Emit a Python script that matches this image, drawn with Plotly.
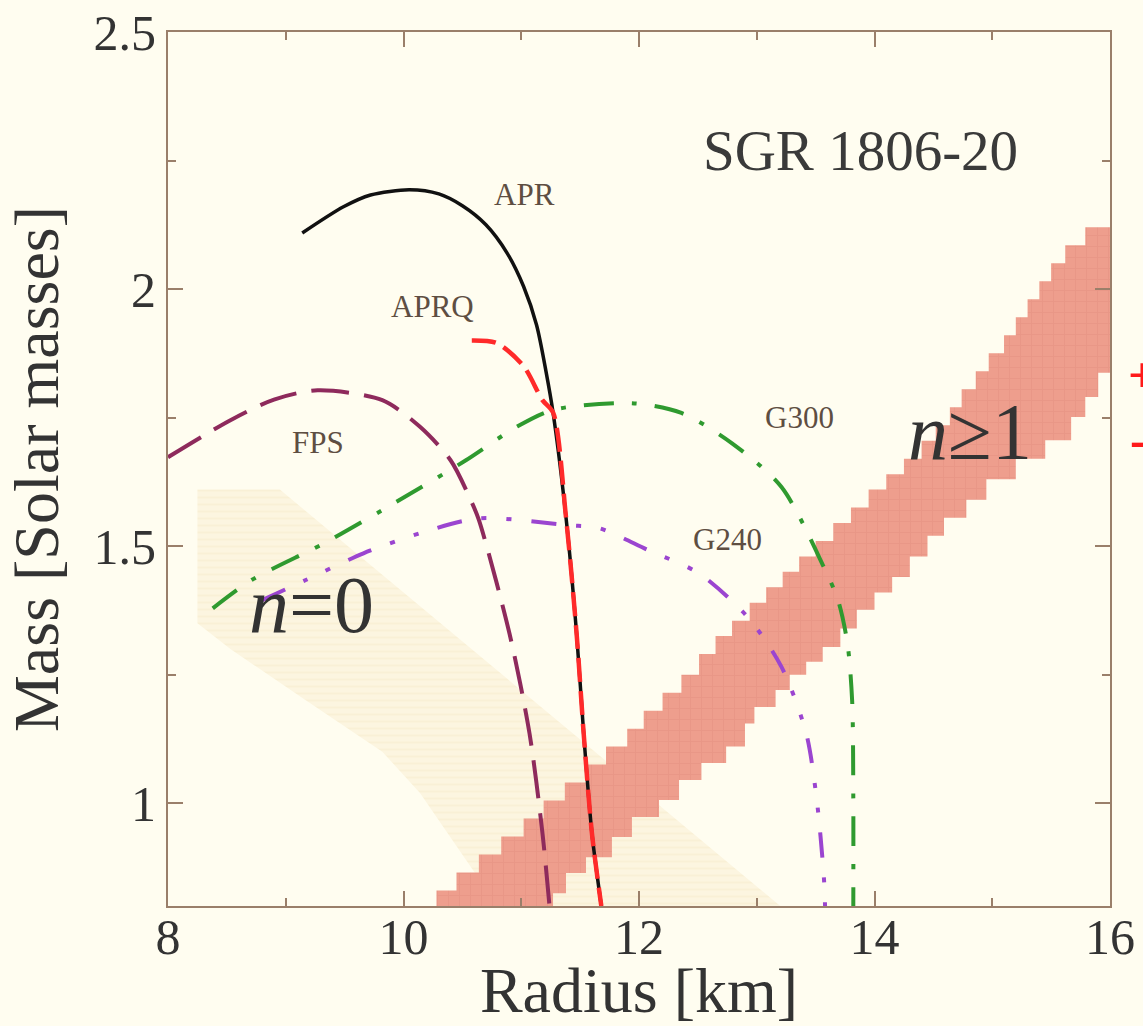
import plotly.graph_objects as go

# ---------------- data ----------------
apr_r = [9.14, 9.49, 9.72, 10.05, 10.30, 10.50, 10.70, 10.88, 11.02, 11.13, 11.21, 11.27, 11.38, 11.47, 11.53, 11.60, 11.68]
apr_m = [2.109, 2.160, 2.183, 2.193, 2.185, 2.162, 2.125, 2.070, 2.005, 1.930, 1.840, 1.760, 1.556, 1.330, 1.136, 0.942, 0.800]

aprq_r = [10.58, 10.79, 11.02, 11.18, 11.27, 11.38, 11.47, 11.53, 11.60, 11.68]
aprq_m = [1.900, 1.895, 1.850, 1.784, 1.760, 1.556, 1.330, 1.136, 0.942, 0.800]

fps_r = [8.00, 8.53, 8.90, 9.27, 9.82, 10.14, 10.40, 10.57, 10.64, 10.90, 11.07, 11.18, 11.24]
fps_m = [1.673, 1.745, 1.785, 1.803, 1.784, 1.732, 1.667, 1.590, 1.551, 1.330, 1.136, 0.942, 0.800]

g300_r = [8.38, 8.71, 9.33, 9.82, 10.53, 10.96, 11.27, 11.94, 12.36, 12.79, 13.21, 13.57, 13.69, 13.77, 13.81, 13.82, 13.82]
g300_m = [1.379, 1.434, 1.506, 1.570, 1.667, 1.732, 1.765, 1.778, 1.759, 1.700, 1.615, 1.459, 1.395, 1.311, 1.200, 1.006, 0.800]

g240_r = [8.80, 9.17, 9.66, 10.14, 10.64, 11.38, 11.66, 12.08, 12.51, 12.93, 13.21, 13.42, 13.51, 13.57, 13.58]
g240_m = [1.395, 1.434, 1.486, 1.525, 1.554, 1.541, 1.535, 1.492, 1.447, 1.360, 1.265, 1.136, 1.006, 0.856, 0.800]

# n >= 1 band: upper (left) staircase edge and lower (right) staircase edge
band_up_r = [10.28, 10.28, 10.45, 10.64, 10.83, 11.02, 11.19, 11.37, 11.55, 11.72, 11.90, 12.04, 12.20, 12.36,
             12.51, 12.65, 12.79, 12.94, 13.08, 13.22, 13.36, 13.50, 13.65, 13.80, 13.95, 14.10, 14.25, 14.40,
             14.52, 14.64, 14.74, 14.86, 14.97, 15.10, 15.20, 15.30, 15.40, 15.50, 15.62, 15.79, 16.00]
band_up_m = [0.800, 0.830, 0.865, 0.900, 0.935, 0.970, 1.005, 1.040, 1.075, 1.110, 1.145, 1.180, 1.215, 1.250,
             1.290, 1.325, 1.355, 1.390, 1.420, 1.450, 1.480, 1.510, 1.545, 1.575, 1.610, 1.640, 1.670, 1.705,
             1.735, 1.770, 1.805, 1.840, 1.875, 1.910, 1.945, 1.980, 2.015, 2.050, 2.085, 2.120, 2.120]
band_lo_r = [16.00, 15.90, 15.79, 15.67, 15.45, 15.20, 14.95, 14.78, 14.59, 14.45, 14.30, 14.15, 14.00, 13.85,
             13.71, 13.56, 13.42, 13.28, 13.16, 12.98, 12.90, 12.74, 12.53, 12.34, 12.17, 11.94, 11.77, 11.55,
             11.38, 11.27, 10.28]
band_lo_m = [1.837, 1.790, 1.751, 1.706, 1.670, 1.630, 1.590, 1.555, 1.520, 1.480, 1.440, 1.410, 1.376, 1.340,
             1.304, 1.275, 1.250, 1.220, 1.187, 1.155, 1.110, 1.078, 1.045, 1.006, 0.973, 0.934, 0.895, 0.864,
             0.825, 0.800, 0.800]

# n = 0 region (faint beige)
n0_r = [8.25, 8.95, 13.20, 10.80, 10.14, 9.82, 9.17, 8.53, 8.25]
n0_m = [1.610, 1.610, 0.800, 0.800, 1.020, 1.100, 1.200, 1.300, 1.350]

labels = ["APR", "APRQ", "FPS", "G300", "G240"]
label_r = [11.03, 10.25, 9.27, 13.36, 12.75]
label_m = [2.183, 1.967, 1.702, 1.751, 1.512]

# ---------------- styling ----------------
BG = "#FFFDF0"
AX = "#9A7F6A"
SERIF = "Liberation Serif, Times New Roman, serif"

fig = go.Figure()

fig.add_trace(go.Scatter(
    x=n0_r, y=n0_m, mode="lines", fill="toself",
    line=dict(color="rgba(0,0,0,0)", width=0),
    fillcolor="#FCF5E0",
    fillpattern=dict(shape="-", bgcolor="#FCF5E0", fgcolor="#F6EBCB", size=7, solidity=0.3),
    hoverinfo="skip", showlegend=False))

fig.add_trace(go.Scatter(
    x=band_up_r + band_lo_r, y=band_up_m + band_lo_m, mode="lines", fill="toself",
    line=dict(color="rgba(0,0,0,0)", width=0, shape="hv"),
    fillcolor="#EE9E8D",
    fillpattern=dict(shape="+", bgcolor="#EE9E8D", fgcolor="#E28E7E", size=11, solidity=0.15),
    hoverinfo="skip", showlegend=False))

SM = 0.8
fig.add_trace(go.Scatter(x=fps_r, y=fps_m, mode="lines",
                         line=dict(color="#8E2A5C", width=4, dash="38px,15px", shape="spline", smoothing=SM),
                         showlegend=False))
fig.add_trace(go.Scatter(x=g300_r, y=g300_m, mode="lines",
                         line=dict(color="#2F9A2F", width=4, dash="30px,18px,5px,18px", shape="spline", smoothing=SM),
                         showlegend=False))
fig.add_trace(go.Scatter(x=g240_r, y=g240_m, mode="lines",
                         line=dict(color="#9B45D0", width=4, dash="25px,20px,5px,20px,5px,20px",
                                   shape="spline", smoothing=SM),
                         showlegend=False))
fig.add_trace(go.Scatter(x=apr_r, y=apr_m, mode="lines",
                         line=dict(color="#111111", width=3.5, shape="spline", smoothing=SM), showlegend=False))
fig.add_trace(go.Scatter(x=aprq_r, y=aprq_m, mode="lines",
                         line=dict(color="#FF2A2A", width=4.5, dash="24px,9px", shape="spline", smoothing=SM),
                         showlegend=False))

for t, r, m in zip(labels, label_r, label_m):
    fig.add_annotation(x=r, y=m, text=t, showarrow=False,
                       font=dict(family=SERIF, size=31, color="#5E4E42"))

fig.add_annotation(x=13.88, y=2.27, text="SGR 1806-20", showarrow=False,
                   font=dict(family=SERIF, size=57, color="#3A3A3A"))
fig.add_annotation(x=9.22, y=1.385, text="<i>n</i>=0", showarrow=False,
                   font=dict(family=SERIF, size=80, color="#333333"))
fig.add_annotation(x=14.81, y=1.722, text="<i>n</i>≥1", showarrow=False,
                   font=dict(family=SERIF, size=80, color="#333333"))
fig.add_annotation(xref="paper", yref="paper", x=1.034, y=0.608, xanchor="center", text="<b>+</b>",
                   showarrow=False, font=dict(family=SERIF, size=50, color="#FF1A1A"))
fig.add_annotation(xref="paper", yref="paper", x=1.019, y=0.533, xanchor="left", text="<b>-</b>",
                   showarrow=False, font=dict(family=SERIF, size=50, color="#FF1A1A"))

axis_common = dict(showline=True, linecolor=AX, linewidth=2, mirror="ticks",
                   ticks="inside", ticklen=15, tickwidth=2, tickcolor=AX,
                   showgrid=False, zeroline=False, automargin=False,
                   tickfont=dict(family=SERIF, size=50, color="#333333"))

fig.update_xaxes(range=[8, 16], tick0=8, dtick=2, ticklabelstandoff=-14,
                 minor=dict(dtick=1, ticks="inside", ticklen=8, tickwidth=2, tickcolor=AX),
                 title=dict(text="Radius [km]", font=dict(family=SERIF, size=64, color="#333333"), standoff=10),
                 **axis_common)
fig.update_yaxes(range=[0.8, 2.5], tick0=0, dtick=0.5,
                 minor=dict(dtick=0.25, ticks="inside", ticklen=8, tickwidth=2, tickcolor=AX),
                 title=dict(text="Mass [Solar masses]", font=dict(family=SERIF, size=64, color="#333333"), standoff=14),
                 **axis_common)

fig.update_layout(width=1143, height=1026, autosize=False,
                  margin=dict(l=168, r=33, t=32, b=120),
                  paper_bgcolor=BG, plot_bgcolor=BG, showlegend=False)

fig.write_html("out.html", config={"displayModeBar": False},
               post_script="document.body.style.margin='0';document.body.style.overflow='hidden';"
                           "document.body.style.background='#FFFDF0';")
